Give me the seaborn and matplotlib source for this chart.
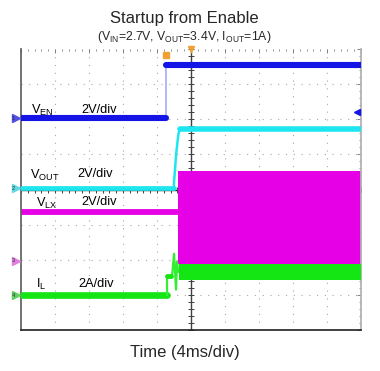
import matplotlib
matplotlib.use('Agg')
import matplotlib.pyplot as plt
import numpy as np
import seaborn as sns

sns.set_theme(style="white")
plt.rcParams['font.family'] = ['Liberation Sans', 'DejaVu Sans']
plt.rcParams['mathtext.fontset'] = 'custom'
plt.rcParams['mathtext.rm'] = 'Liberation Sans'

# time in ms (4 ms/div), levels in screen divisions
ven_t = [-20, -2.94, -2.94, 20]
ven_y = [2.03, 2.03, 3.54, 3.54]

vout_t = [-20, -2.05, -1.75, -1.5, -1.35, 20]
vout_y = [0.03, 0.03, 1.0, 1.55, 1.71, 1.71]

vlx_low_t = [-20, -1.55]
vlx_low_y = [-0.63, -0.63]
vlx_band_t = [-1.55, 20]
vlx_band_top = [0.54, 0.54]
vlx_band_bot = [-2.11, -2.11]

il_t = [-20, -2.82, -2.82, -2.35, -2.2, -2.0, -1.76, -1.65, -1.5]
il_y = [-3.01, -3.01, -2.46, -2.46, -2.4, -1.83, -2.85, -2.05, -2.35]
il_band_t = [-1.45, 20]
il_band_top = [-2.11, -2.11]
il_band_bot = [-2.57, -2.57]

blue = '#1414e6'
cyan = '#1ee6f0'
magenta = '#e600e6'
green = '#14e614'

fig = plt.figure(figsize=(3.8, 3.71), dpi=100)
ax = fig.add_axes([21/380, 41/371, 340/380, 281/371])
ax.set_xlim(-20, 20)
ax.set_ylim(-4, 4)

# graticule
for gx in np.arange(-16, 20, 4):
    ax.axvline(gx, color='#a8a8a8', lw=0.8, ls=(0, (1, 6)), zorder=0)
for gy in np.arange(-3, 4, 1):
    ax.axhline(gy, color='#a8a8a8', lw=0.8, ls=(0, (1, 6)), zorder=0)
ax.axvline(0, color='#404040', lw=1.0, zorder=0.5)
ax.axhline(0, color='#202020', lw=1.0, zorder=0.5)
ax.plot(np.arange(-20, 20.01, 0.8), np.zeros(51), ls='none', marker='|',
        ms=4, color='#404040', mew=0.7, zorder=0.5)
ax.plot(np.zeros(41), np.arange(-4, 4.01, 0.2), ls='none', marker='_',
        ms=4, color='#404040', mew=0.7, zorder=0.5)

# VLX switching band
ax.fill_between(vlx_band_t, vlx_band_bot, vlx_band_top, color=magenta, lw=0, zorder=2)
sns.lineplot(x=vlx_low_t, y=vlx_low_y, ax=ax, color=magenta, lw=4.2,
             estimator=None, sort=False, zorder=2)

# IL
sns.lineplot(x=il_t[:2], y=il_y[:2], ax=ax, color=green, lw=4.8,
             estimator=None, sort=False, zorder=3)
sns.lineplot(x=il_t[1:], y=il_y[1:], ax=ax, color='#33ee33', lw=1.6,
             estimator=None, sort=False, zorder=3)
sns.lineplot(x=il_t[2:4], y=il_y[2:4], ax=ax, color=green, lw=3.5,
             estimator=None, sort=False, zorder=3)
ax.fill_between(il_band_t, il_band_bot, il_band_top, color=green, lw=0, zorder=3)

# VOUT
sns.lineplot(x=vout_t[:2], y=vout_y[:2], ax=ax, color=cyan, lw=3.4,
             estimator=None, sort=False, zorder=4)
sns.lineplot(x=vout_t[1:5], y=vout_y[1:5], ax=ax, color=cyan, lw=1.8,
             estimator=None, sort=False, zorder=4)
sns.lineplot(x=vout_t[4:], y=vout_y[4:], ax=ax, color=cyan, lw=4.0,
             estimator=None, sort=False, zorder=4)

# VEN
sns.lineplot(x=ven_t, y=ven_y, ax=ax, color='#a8a8ff', lw=1.2,
             estimator=None, sort=False, zorder=5)
sns.lineplot(x=ven_t[:2], y=ven_y[:2], ax=ax, color=blue, lw=4.4,
             estimator=None, sort=False, zorder=5)
sns.lineplot(x=ven_t[2:], y=ven_y[2:], ax=ax, color=blue, lw=4.4,
             estimator=None, sort=False, zorder=5)

# channel ground markers on the left
marker_y = [2.03, 0.03, -2.03, -3.01]
marker_c = ['#5050e0', '#60d8e0', '#e080e0', '#60d060']
for i, (my, mc) in enumerate(zip(marker_y, marker_c)):
    ax.plot([-20.6], [my], marker='>', ms=6, color=mc, clip_on=False, zorder=6)
    ax.text(-20.9, my, str(i + 1), fontsize=4, color='#303030',
            ha='center', va='center', clip_on=False, zorder=7)

# markers on the right and trigger markers at top
ax.plot([19.5], [2.2], marker='<', ms=4, color=blue, clip_on=False, zorder=6)
ax.plot([0], [4.0], marker='v', ms=5, color='#f0a030', clip_on=False, zorder=6)
ax.plot([-2.94], [3.83], marker='s', ms=4.5, color='#f0a030', clip_on=False, zorder=6)

# channel labels
lab_kw = dict(fontsize=9.2, color='black', va='center', zorder=8)
ax.text(-18.8, 2.26, r'V$_{\mathrm{EN}}$', **lab_kw)
ax.text(-12.9, 2.26, '2V/div', **lab_kw)
ax.text(-18.9, 0.4, r'V$_{\mathrm{OUT}}$', **lab_kw)
ax.text(-13.4, 0.43, '2V/div', **lab_kw)
ax.text(-18.2, -0.4, r'V$_{\mathrm{LX}}$', **lab_kw)
ax.text(-12.9, -0.37, '2V/div', **lab_kw)
ax.text(-18.2, -2.71, r'I$_{\mathrm{L}}$', **lab_kw)
ax.text(-13.2, -2.69, '2A/div', **lab_kw)

# axes frame
ax.set_xticks(np.arange(-20, 20.01, 4))
ax.set_yticks(np.arange(-4, 4.01, 1))
ax.set_xticks(np.arange(-20, 20.01, 0.8), minor=True)
ax.set_yticks(np.arange(-4, 4.01, 0.2), minor=True)
ax.tick_params(which='both', direction='in', top=True, right=True,
               labelbottom=False, labelleft=False, color='#808080')
ax.tick_params(which='major', length=3, width=0.7)
ax.tick_params(which='minor', length=1.5, width=0.6)
ax.spines['top'].set_visible(False)
ax.spines['bottom'].set_color('#202020')
ax.spines['bottom'].set_linewidth(1.2)
ax.spines['left'].set_color('#606060')
ax.spines['right'].set_color('#b0b0b0')
ax.set_xlabel('')
ax.set_ylabel('')

fig.text(184.5/380, 1 - 19/371, 'Startup from Enable', fontsize=12,
         ha='center', va='center')
fig.text(184.5/380, 1 - 37/371,
         r'(V$_{\mathrm{IN}}$=2.7V, V$_{\mathrm{OUT}}$=3.4V, I$_{\mathrm{OUT}}$=1A)',
         fontsize=8.8, ha='center', va='center')
fig.text(184.5/380, 1 - 352/371, 'Time (4ms/div)', fontsize=12,
         ha='center', va='center')

fig.savefig('out.png', dpi=100, facecolor='white')
plt.close(fig)
